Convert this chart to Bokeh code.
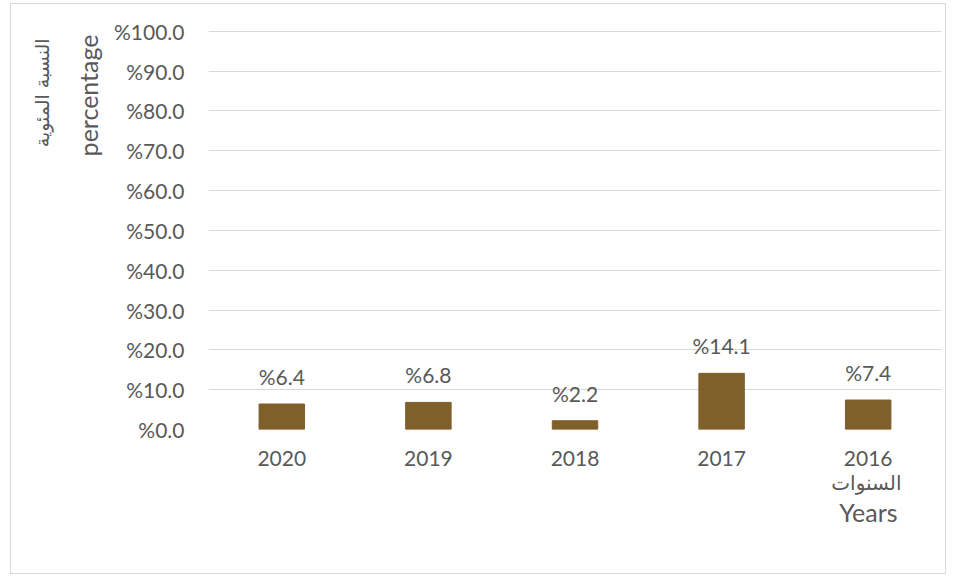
from bokeh.plotting import figure
from bokeh.models import Range1d, FactorRange, ColumnDataSource, LabelSet, Title, FixedTicker
from bokeh.core.properties import value
from bokeh.embed import file_html
from bokeh.resources import INLINE

years = ["2020", "2019", "2018", "2017", "2016"]
values = [6.4, 6.8, 2.2, 14.1, 7.4]
value_labels = ["%6.4", "%6.8", "%2.2", "%14.1", "%7.4"]
y_ticks = [0, 10, 20, 30, 40, 50, 60, 70, 80, 90, 100]
y_tick_labels = ["%0.0", "%10.0", "%20.0", "%30.0", "%40.0", "%50.0",
                 "%60.0", "%70.0", "%80.0", "%90.0", "%100.0"]
y_title_ar = "النسبة المئوية"
y_title_en = "percentage"
x_title_ar = "السنوات"
x_title_en = "Years"

TEXT = "#595959"
GRID = "#d9d9d9"
BAR = "#7f5f2a"
FONT = "Lato"
AR_FONT = "DejaVu Sans"
FS = "21px"
TFS = "25px"

p = figure(width=936, height=571, output_backend="svg", toolbar_location=None,
           x_range=FactorRange(*years, range_padding=0), y_range=Range1d(0, 100.2),
           min_border_left=197, min_border_right=6, min_border_top=26, min_border_bottom=146)
p.styles = {"margin-left": "10px", "margin-top": "3px", "border": "1px solid #d9d9d9"}
p.outline_line_color = None
p.background_fill_color = "white"
p.border_fill_color = "white"

src = ColumnDataSource(dict(x=years, top=values, lab=value_labels))
p.vbar(x="x", top="top", width=0.31, source=src, fill_color=BAR, line_color=BAR)

p.add_layout(LabelSet(x="x", y="top", text="lab", source=src, text_align="center",
                      text_baseline="bottom", y_offset=15, text_color=TEXT,
                      text_font=value(FONT), text_font_size=value(FS)))

# y axis
p.yaxis.ticker = FixedTicker(ticks=y_ticks)
p.yaxis.major_label_overrides = {t: l for t, l in zip(y_ticks, y_tick_labels)}
p.yaxis.axis_line_color = None
p.yaxis.major_tick_line_color = None
p.yaxis.minor_tick_line_color = None
p.yaxis.major_label_standoff = 18
p.yaxis.major_label_text_color = TEXT
p.yaxis.major_label_text_font = FONT
p.yaxis.major_label_text_font_size = FS

# x axis
p.xaxis.axis_line_color = None
p.xaxis.major_tick_line_color = None
p.xaxis.minor_tick_line_color = None
p.xaxis.major_label_standoff = 15
p.xaxis.major_label_text_color = TEXT
p.xaxis.major_label_text_font = FONT
p.xaxis.major_label_text_font_size = FS

p.xgrid.grid_line_color = None
p.ygrid.grid_line_color = GRID
p.ygrid.grid_line_width = 1

# axis titles as side titles
p.add_layout(Title(text=y_title_en, align="right", text_color=TEXT, text_font=FONT,
                   text_font_size=TFS, text_font_style="normal", standoff=16, offset=4), "left")
p.add_layout(Title(text=y_title_ar, align="right", text_color=TEXT, text_font=AR_FONT,
                   text_font_size="19px", text_font_style="normal", standoff=20, offset=8), "left")
# blank spacer panel below the year labels
p.add_layout(Title(text=" ", align="right", text_alpha=0, text_font=AR_FONT,
                   text_font_size="20px", text_font_style="normal", standoff=0), "below")
p.add_layout(Title(text=x_title_ar, align="right", text_color=TEXT, text_font=AR_FONT,
                   text_font_size="20px", text_font_style="normal", standoff=0, offset=40), "below")
p.add_layout(Title(text=x_title_en, align="right", text_color=TEXT, text_font=FONT,
                   text_font_size=TFS, text_font_style="normal", standoff=0, offset=44), "below")

open("out.html", "w").write(file_html(p, INLINE))
